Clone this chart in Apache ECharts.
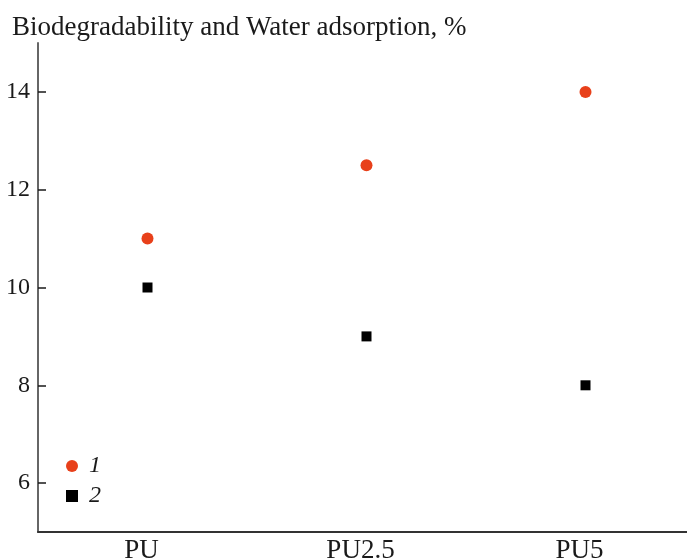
<!DOCTYPE html>
<html>
<head>
<meta charset="utf-8">
<script src="https://cdn.jsdelivr.net/npm/echarts@6/dist/echarts.min.js"></script>
<style>
  html, body { margin: 0; padding: 0; background: #fff; }
  #chart { width: 687px; height: 559px; }
</style>
</head>
<body>
<div id="chart"></div>
<script>
// samples on the x axis
const samples = ['PU', 'PU2.5', 'PU5']
// 1 - biodegradability, 2 - water adsorption (%)
const biodegradability = [11, 12.5, 14]
const waterAdsorption = [10, 9, 8]
const yTicks = [6, 8, 10, 12, 14]

const serif = '"Liberation Serif", "DejaVu Serif", serif'

let option = {
  animation: false,
  textStyle: { fontFamily: serif },
  title: {
    text: 'Biodegradability and Water adsorption, %',
    left: 7,
    top: 9,
    textStyle: {
      fontFamily: serif,
      fontWeight: 'normal',
      fontSize: 27,
      color: '#1a1a1a',
    },
  },
  grid: {
    left: 38,
    right: -8,
    top: 43,
    bottom: 27,
    outerBoundsMode: 'none',
  },
  legend: {
    orient: 'vertical',
    left: 61,
    top: 449,
    itemWidth: 12,
    itemHeight: 12,
    itemGap: 6,
    selectedMode: false,
    textStyle: {
      fontFamily: serif,
      fontStyle: 'italic',
      fontSize: 24,
      color: '#1a1a1a',
      padding: [0, 0, 0, 6],
    },
    data: ['1', '2'],
  },
  xAxis: {
    type: 'category',
    data: samples,
    axisLine: { lineStyle: { color: '#333', width: 2 } },
    axisTick: { show: false },
    axisLabel: {
      fontFamily: serif,
      fontSize: 27,
      color: '#1a1a1a',
      margin: 5,
      padding: [0, 12, 0, 0], // labels sit a little left of the points
    },
  },
  yAxis: {
    type: 'value',
    min: 5,
    max: 15,
    axisLine: { show: true, lineStyle: { color: '#666', width: 2 } },
    axisTick: {
      show: true,
      inside: true,
      length: 8,
      lineStyle: { color: '#1a1a1a', width: 1.5 },
      customValues: yTicks,
    },
    splitLine: { show: false },
    axisLabel: {
      fontFamily: serif,
      fontSize: 24,
      color: '#1a1a1a',
      margin: 8,
      customValues: yTicks,
    },
  },
  series: [
    {
      name: '1',
      type: 'scatter',
      symbol: 'circle',
      symbolSize: 12,
      itemStyle: { color: '#e8401a', opacity: 1 },
      data: biodegradability,
    },
    {
      name: '2',
      type: 'scatter',
      symbol: 'rect',
      symbolSize: 10,
      itemStyle: { color: '#000', opacity: 1 },
      data: waterAdsorption,
    },
  ],
}

let myChart = echarts.init(document.getElementById('chart'))
myChart.setOption(option)
</script>
</body>
</html>
